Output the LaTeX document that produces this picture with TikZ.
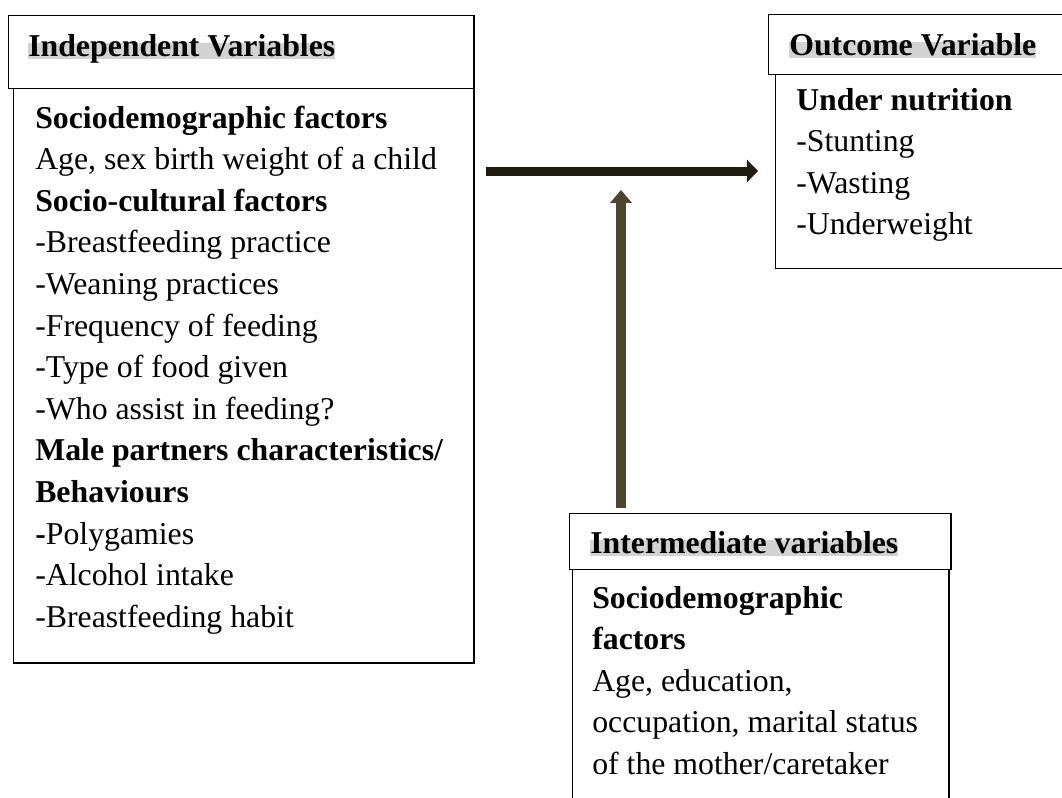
\documentclass[tikz,border=0pt]{standalone}
\usepackage{fontspec}
\setmainfont{Liberation Serif}
\usetikzlibrary{arrows.meta,positioning}
\definecolor{HiGray}{HTML}{D3D3D3}
\definecolor{ArrDark}{HTML}{1F1C12}
\definecolor{ArrOlive}{HTML}{4E4530}
\newcommand{\diagfont}{\fontsize{22.6}{29.6}\selectfont}

\begin{document}
\begin{tikzpicture}[x=0.025cm,y=-0.025cm,
    frame/.style={draw=black, line width=1pt, inner sep=0pt, anchor=north west},
    hilite/.style={fill=HiGray, inner sep=0pt, text height=0.9em, text depth=0.22em,
      anchor=base west, font=\diagfont\bfseries},
    bodytext/.style={inner sep=0pt, anchor=base west, align=flush left, text width=11cm,
      font=\diagfont},
    fatarrow/.style={line width=#1}]
  \useasboundingbox (0,0) rectangle (1062,797);
  \clip (0,0) rectangle (1062,797);

  % boxes
  \node[frame, minimum width=11.625cm, minimum height=1.825cm] (indhead) at (8,15) {};
  \node[frame, minimum width=11.5cm, minimum height=14.35cm] (indbody) at (13,88) {};
  \node[frame, minimum width=7.8cm, minimum height=1.5cm] (outhead) at (768,14) {};
  \node[frame, minimum width=7.625cm, minimum height=4.85cm] (outbody) at (775,74) {};
  \node[frame, minimum width=9.525cm, minimum height=1.4cm] (midhead) at (569,513) {};
  \node[frame, minimum width=9.4cm, minimum height=6.275cm] (midbody) at (572,569) {};

  % titles
  \node[hilite] (indtitle) at (28,56) {Independent Variables};
  \node[hilite] (outtitle) at (789,55) {Outcome Variable};
  \node[hilite] (midtitle) at (590,553) {Intermediate variables};

  % contents
  \node[bodytext] (indtext) at (35,128) {\textbf{Sociodemographic factors}\\
    Age, sex birth weight of a child\\
    \textbf{Socio-cultural factors}\\
    -Breastfeeding practice\\
    -Weaning practices\\
    -Frequency of feeding\\
    -Type of food given\\
    -Who assist in feeding?\\
    \textbf{Male partners characteristics/}\\
    \textbf{Behaviours}\\
    \textbf{-}Polygamies\\
    -Alcohol intake\\
    -Breastfeeding habit};
  \node[bodytext] (outtext) at (796,110) {\textbf{Under nutrition}\\
    -Stunting\\
    -Wasting\\
    -Underweight};
  \node[bodytext] (midtext) at (592,608) {\textbf{Sociodemographic}\\
    \textbf{factors}\\
    Age, education,\\
    occupation, marital status\\
    of the mother/caretaker};

  % arrows
  \coordinate (hstart) at (486,171);
  \coordinate (hend) at (758,171);
  \coordinate (vstart) at (621,508);
  \coordinate (vend) at (621,190);
  \draw[fatarrow=6.4pt, ArrDark,
    -{Triangle[length=8pt,width=16.4pt,line width=0pt]}] (hstart) -- (hend);
  \draw[fatarrow=7.1pt, ArrOlive,
    -{Triangle[length=9.2pt,width=15.6pt,line width=0pt]}] (vstart) -- (vend);
\end{tikzpicture}
\end{document}
